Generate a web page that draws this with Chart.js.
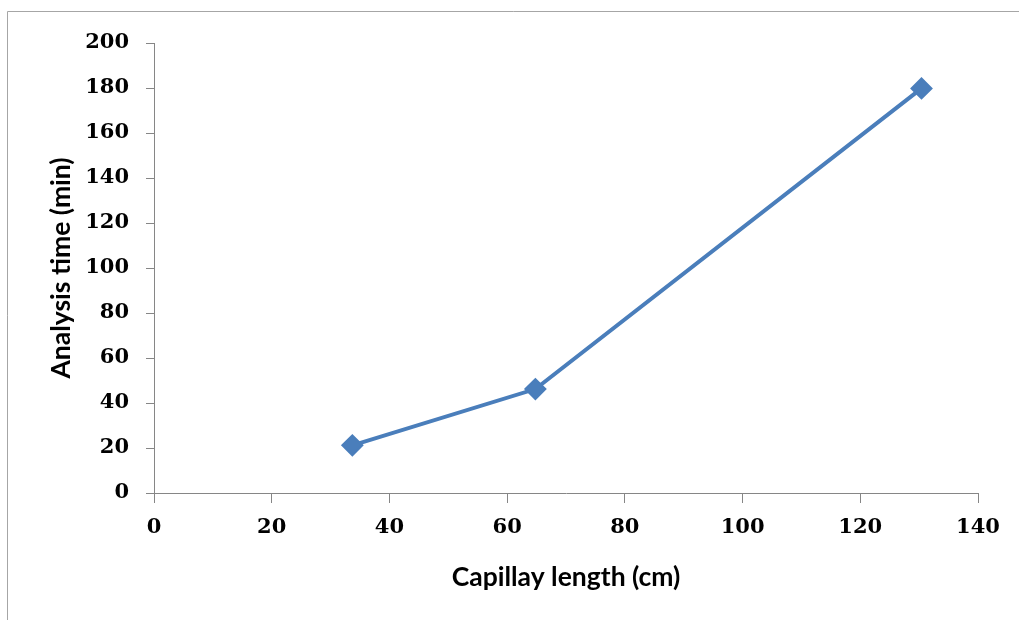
<!DOCTYPE html>
<html>
<head>
<meta charset="utf-8">
<script src="https://cdn.jsdelivr.net/npm/chart.js@4"></script>
<style>
  html, body { margin: 0; padding: 0; background: #fff; }
  canvas { display: block; }
</style>
</head>
<body>
<canvas id="chart" width="1019" height="620"></canvas>
<script>
// capillary length (cm) vs analysis time (min)
const capillaryLength = [33.7, 64.8, 130.4];
const analysisTime = [21.2, 46.2, 179.8];

const xTicks = [0, 20, 40, 60, 80, 100, 120, 140];
const yTicks = [0, 20, 40, 60, 80, 100, 120, 140, 160, 180, 200];

const axisGray = '#868686';
const lineBlue = '#4a7ebb';
const tickFont = { family: "'DejaVu Serif', serif", size: 21, weight: 'bold' };
const titleFont = { family: "Lato, sans-serif", size: 26.5, weight: 'bold' };

// outer frame, only the left and top edges are visible
const framePlugin = {
    id: 'frame',
    beforeDraw(chart) {
        const ctx = chart.ctx;
        ctx.save();
        ctx.strokeStyle = '#a6a6a6';
        ctx.lineWidth = 1;
        ctx.beginPath();
        ctx.moveTo(7.5, chart.height);
        ctx.lineTo(7.5, 11.5);
        ctx.lineTo(chart.width, 11.5);
        ctx.stroke();
        ctx.restore();
    }
};

const points = capillaryLength.map((x, i) => ({ x: x, y: analysisTime[i] }));

new Chart(document.getElementById('chart').getContext('2d'), {
    type: 'scatter',
    data: {
        datasets: [{
            data: points,
            showLine: true,
            borderColor: lineBlue,
            backgroundColor: lineBlue,
            borderWidth: 4,
            pointStyle: 'rectRot',
            pointRadius: 10,
            pointBorderWidth: 2,
            pointBorderColor: lineBlue,
            pointBackgroundColor: lineBlue
        }]
    },
    options: {
        responsive: false,
        animation: false,
        layout: { padding: { left: 0, top: 43, right: 41, bottom: 0 } },
        plugins: {
            legend: { display: false },
            tooltip: { enabled: false }
        },
        scales: {
            x: {
                type: 'linear',
                min: 0,
                max: 140,
                afterBuildTicks: (scale) => { scale.ticks = xTicks.map(v => ({ value: v })); },
                afterFit: (scale) => { scale.height = 127; },
                border: { display: true, color: axisGray, width: 1 },
                grid: { display: true, drawOnChartArea: false, drawTicks: true, tickLength: 10, color: axisGray },
                ticks: { color: '#000', font: tickFont, padding: 12, maxRotation: 0 },
                title: {
                    display: true,
                    text: 'Capillay length (cm)',
                    color: '#000',
                    font: titleFont,
                    padding: { top: 0, bottom: 27 }
                }
            },
            y: {
                type: 'linear',
                min: 0,
                max: 200,
                afterBuildTicks: (scale) => { scale.ticks = yTicks.map(v => ({ value: v })); },
                afterFit: (scale) => { scale.width = 154; },
                border: { display: true, color: axisGray, width: 1 },
                grid: { display: true, drawOnChartArea: false, drawTicks: true, tickLength: 8, color: axisGray },
                ticks: { color: '#000', font: tickFont, padding: 17 },
                title: {
                    display: true,
                    text: 'Analysis time (min)',
                    color: '#000',
                    font: titleFont,
                    padding: { top: 46, bottom: 0 }
                }
            }
        }
    },
    plugins: [framePlugin]
});
</script>
</body>
</html>
